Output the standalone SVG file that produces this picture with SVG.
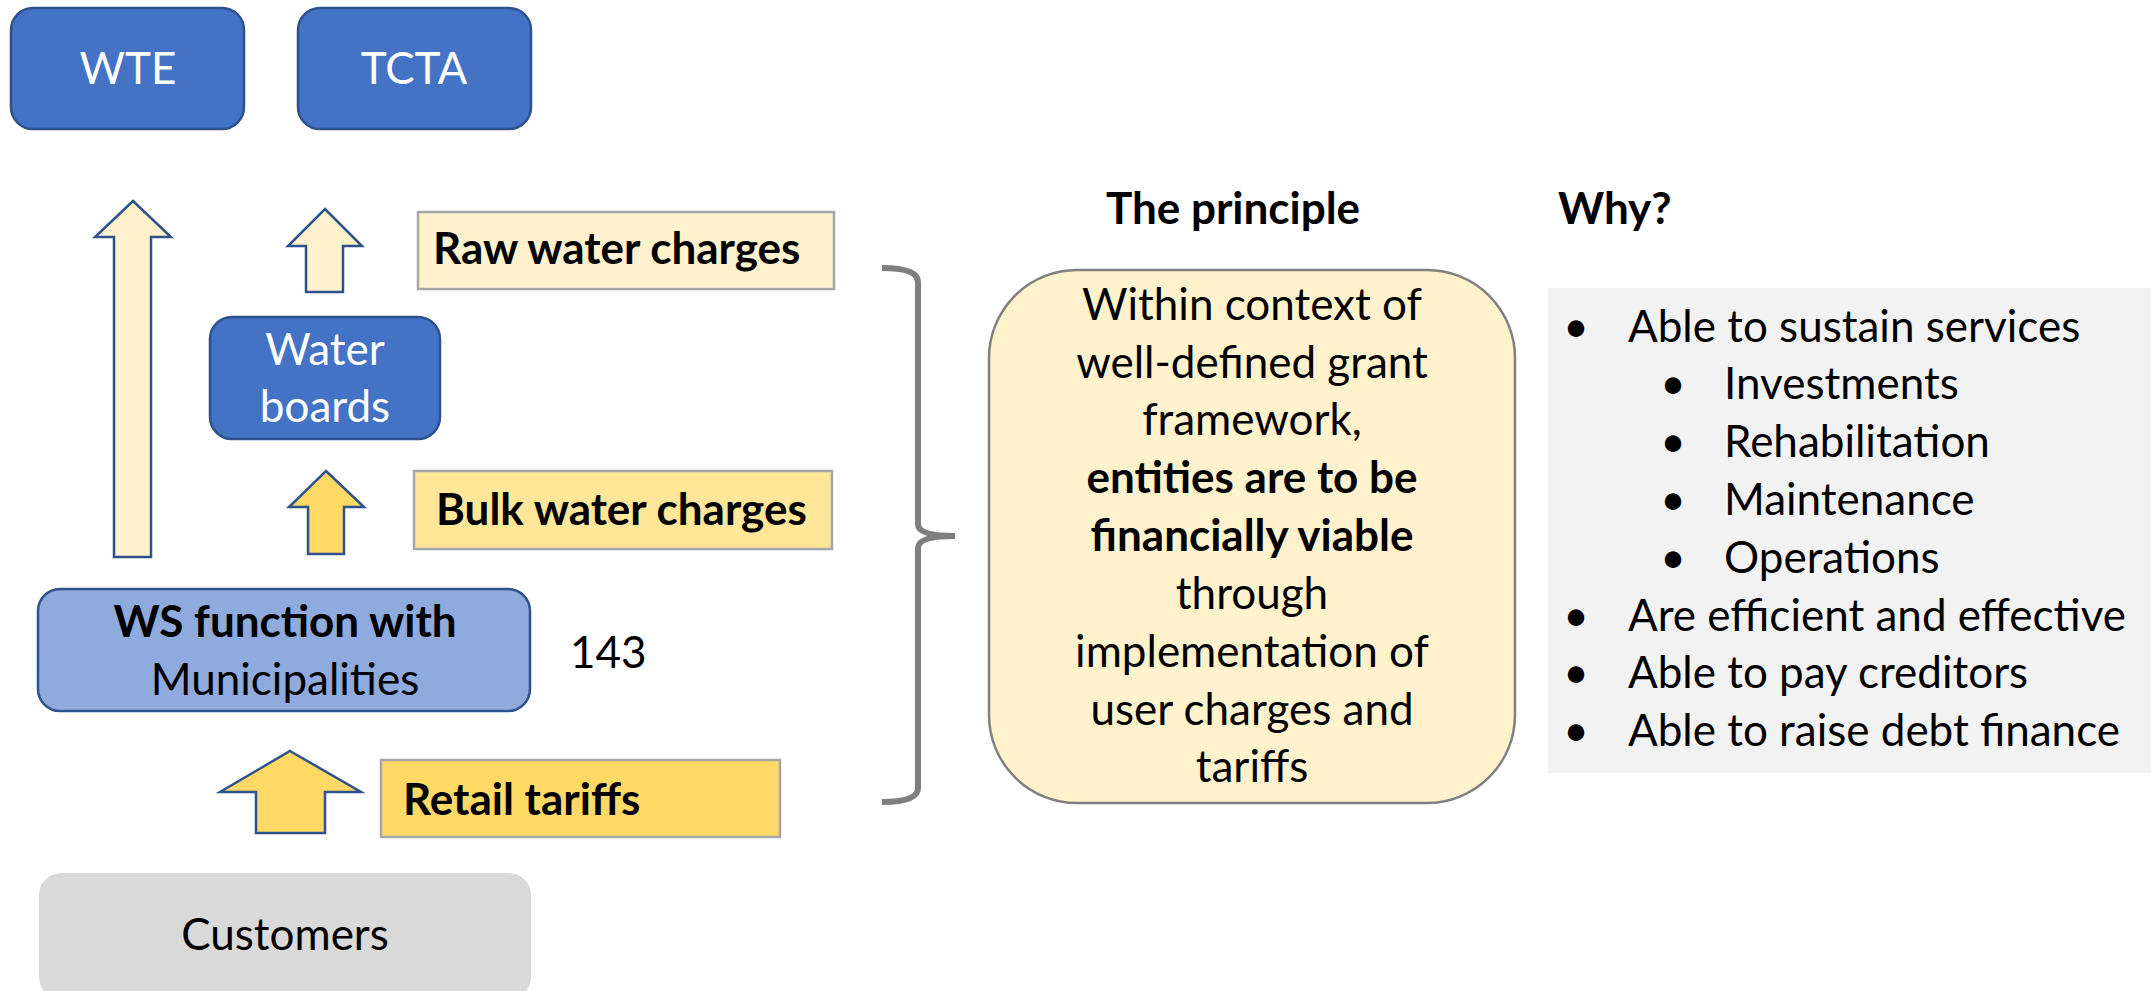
<svg xmlns="http://www.w3.org/2000/svg" width="2151" height="991" viewBox="0 0 2151 991">
<style>
  text { font-family: Lato, "Open Sans", "Liberation Sans", sans-serif; font-size: 44px; fill: #000; }
  .w { fill: #fff; }
  .b { font-weight: bold; }
  .c { text-anchor: middle; }
  .dark { fill: #4472C4; stroke: #2F528F; stroke-width: 2.5; }
  .mid { fill: #8FAADC; stroke: #2F528F; stroke-width: 2.5; }
  .arrow { stroke: #2F528F; stroke-width: 2.5; stroke-linejoin: miter; }
  .lbl { stroke: #A6A6A6; stroke-width: 2.5; }
</style>
<rect width="2151" height="991" fill="#fff"/>

<g id="wte"><rect class="dark" x="11" y="8" width="233" height="121" rx="22"/><text class="w c" x="128" y="84">WTE</text></g>
<g id="tcta"><rect class="dark" x="298" y="8" width="233" height="121" rx="22"/><text class="w c" x="414" y="84">TCTA</text></g>

<g id="connectors">
  <path class="arrow" fill="#FFF2CC" d="M133,201 L171,237 L151,237 L151,557 L114,557 L114,237 L95,237 Z"/>
  <path class="arrow" fill="#FFF2CC" d="M325,209 L362,246 L343,246 L343,292 L306,292 L306,246 L288,246 Z"/>
  <path class="arrow" fill="#FFD966" d="M326,471 L364,507 L344,507 L344,554 L308,554 L308,507 L289,507 Z"/>
  <path class="arrow" fill="#FFD966" d="M290,751 L361,792 L325,792 L325,833 L256,833 L256,792 L220,792 Z"/>
  <path fill="none" stroke="#7F7F7F" stroke-width="6" d="M882,268 Q918,268 918,282 L918,524 Q918,536 955,536 Q918,536 918,548 L918,788 Q918,802 882,802"/>
</g>

<g id="raw-water"><rect class="lbl" x="418" y="212" width="416" height="77" fill="#FFF2CC"/><text class="b" x="433" y="264">Raw water charges</text></g>
<g id="water-boards"><rect class="dark" x="210" y="317" width="230" height="122" rx="22"/><text class="w c" x="325" y="365">Water</text><text class="w c" x="325" y="422">boards</text></g>
<g id="bulk-water"><rect class="lbl" x="414" y="471" width="418" height="78" fill="#FFE699"/><text class="b" x="436" y="525">Bulk water charges</text></g>
<g id="ws-function"><rect class="mid" x="38" y="589" width="492" height="122" rx="22"/><text class="b c" x="285" y="637">WS function with</text><text class="c" x="285" y="695">Municipalities</text></g>
<g id="count"><text x="570" y="668">143</text></g>
<g id="retail"><rect class="lbl" x="381" y="760" width="399" height="77" fill="#FFD966"/><text class="b" x="403" y="815">Retail tariffs</text></g>
<g id="customers"><rect x="39" y="873" width="492" height="126" rx="22" fill="#D9D9D9"/><text class="c" x="285" y="950">Customers</text></g>

<g id="principle">
  <text class="b c" x="1233" y="224">The principle</text>
  <rect x="989" y="270" width="526" height="533" rx="88" fill="#FFF2CC" stroke="#808080" stroke-width="2.5"/>
  <text class="c" x="1252" y="320">Within context of</text>
  <text class="c" x="1252" y="378">well-defined grant</text>
  <text class="c" x="1252" y="435">framework,</text>
  <text class="b c" x="1252" y="493">entities are to be</text>
  <text class="b c" x="1252" y="551">financially viable</text>
  <text class="c" x="1252" y="609">through</text>
  <text class="c" x="1252" y="667">implementation of</text>
  <text class="c" x="1252" y="725">user charges and</text>
  <text class="c" x="1252" y="782">tariffs</text>
</g>

<g id="why">
  <text class="b" x="1558" y="224">Why?</text>
  <rect x="1548" y="288" width="603" height="485" fill="#F2F2F2"/>
  <text class="c" x="1576" y="342">•</text><text x="1628" y="342">Able to sustain services</text>
  <text class="c" x="1673" y="399">•</text><text x="1724" y="399">Investments</text>
  <text class="c" x="1673" y="457">•</text><text x="1724" y="457">Rehabilitation</text>
  <text class="c" x="1673" y="515">•</text><text x="1724" y="515">Maintenance</text>
  <text class="c" x="1673" y="573">•</text><text x="1724" y="573">Operations</text>
  <text class="c" x="1576" y="631">•</text><text x="1628" y="631">Are efficient and effective</text>
  <text class="c" x="1576" y="688">•</text><text x="1628" y="688">Able to pay creditors</text>
  <text class="c" x="1576" y="746">•</text><text x="1628" y="746">Able to raise debt finance</text>
</g>
</svg>
